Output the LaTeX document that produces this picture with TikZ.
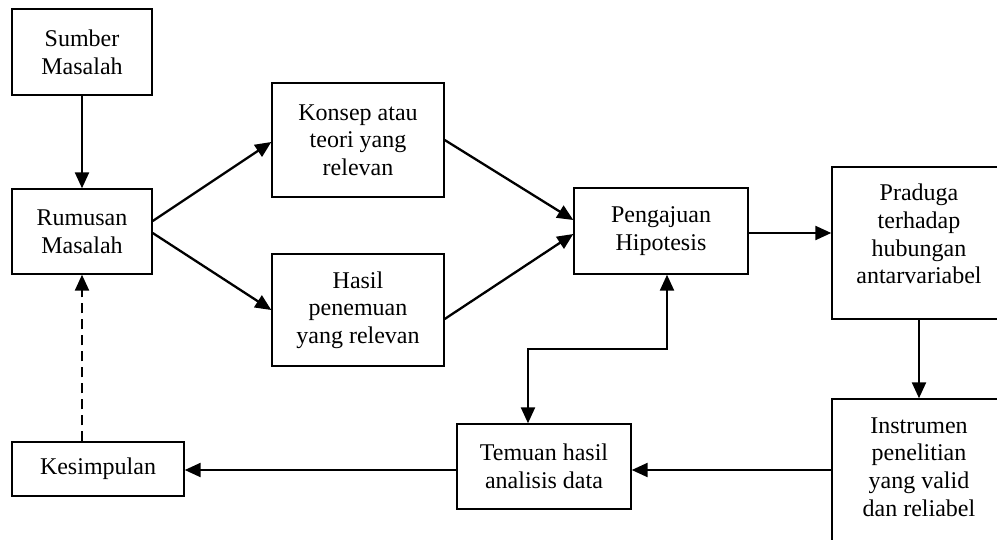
\documentclass[tikz,border=0pt]{standalone}
\usepackage{fontspec}
\setmainfont{Liberation Serif}
\usetikzlibrary{arrows.meta,calc}
\tikzset{mytri/.tip={Triangle[length=16pt,width=14pt]}}
\begin{document}
\begin{tikzpicture}[x=1pt,y=-1pt,
  box/.style={draw, line width=1.4pt, inner sep=0pt, align=center, font=\fontsize{24}{27.6}\selectfont},
  txt/.style={inner sep=0pt, align=center, font=\fontsize{24}{27.6}\selectfont},
  conn/.style={line width=2.3pt, -mytri},
  conn2/.style={line width=2.3pt, mytri-mytri},
  dashconn/.style={line width=2.3pt, -mytri, dash pattern=on 10pt off 6pt}]
\fill[white] (0,0) rectangle (997,539);
\useasboundingbox (0,0) rectangle (997,539);
\clip (0,0) rectangle (997,539);

\node[box, minimum width=140pt, minimum height=86pt] (sumber) at (82,52) {Sumber\\Masalah};
\node[box, minimum width=140pt, minimum height=85pt] (rumusan) at (82,231.5) {Rumusan\\Masalah};
\node[box, minimum width=172pt, minimum height=114pt] (konsep) at (358,140) {Konsep atau\\teori yang\\relevan};
\node[box, minimum width=172pt, minimum height=112pt] (hasil) at (358,310) {Hasil\\penemuan\\yang relevan};
\node[box, minimum width=174pt, minimum height=86pt] (pengajuan) at (661,231) {Pengajuan\\Hipotesis};
\node[box, minimum width=174pt, minimum height=152pt] (praduga) at (919,243) {};
\node[txt] (pradugaT) at (919,234) {Praduga\\terhadap\\hubungan\\antarvariabel};
\node[box, minimum width=174pt, minimum height=172pt] (instrumen) at (919,485) {};
\node[txt] (instrumenT) at (919,467) {Instrumen\\penelitian\\yang valid\\dan reliabel};
\node[box, minimum width=174pt, minimum height=85pt] (temuan) at (544,466.5) {Temuan hasil\\analisis data};
\node[box, minimum width=172pt, minimum height=54pt] (kesimpulan) at (98,469) {Kesimpulan};

\coordinate (elb) at (600,349);
\coordinate (row) at (0,470);

\draw[conn] (sumber.south) -- (rumusan.north);
\draw[conn] ([yshift=10.5pt]rumusan.east) -- ([yshift=-2pt]konsep.west);
\draw[conn] ([yshift=-1.5pt]rumusan.east) -- (hasil.west);
\draw[conn] (konsep.east) -- ([yshift=11pt]pengajuan.west);
\draw[conn] ([yshift=-9pt]hasil.east) -- ([yshift=-3pt]pengajuan.west);
\draw[conn] ([yshift=-2pt]pengajuan.east) -- ([yshift=-2pt]praduga.west |- pengajuan.east);
\draw[conn] (praduga.south) -- (instrumen.north);
\draw[conn] (instrumen.west |- row) -- (temuan.east |- row);
\draw[conn] (temuan.west |- row) -- (kesimpulan.east |- row);
\draw[conn2] ([xshift=6pt]pengajuan.south) -- ([xshift=6pt]pengajuan.south |- elb) -| ([xshift=-16pt]temuan.north);
\draw[dashconn] (rumusan.south |- kesimpulan.north) -- (rumusan.south);
\end{tikzpicture}
\end{document}
